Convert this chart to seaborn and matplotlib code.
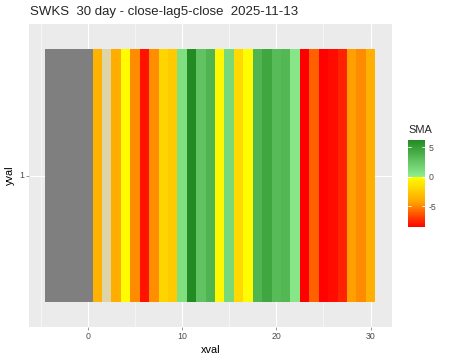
import numpy as np
import pandas as pd
import matplotlib
matplotlib.use("Agg")
import matplotlib.pyplot as plt
import seaborn as sns
from matplotlib.colors import LinearSegmentedColormap, ListedColormap

# ---- data ----
xval = list(range(-4, 31))
sma = [np.nan, np.nan, np.nan, np.nan, np.nan,
       -3.6, 0.0, -3.8, -0.2, -4.9, -8.0, -4.8, -2.0, -2.5, 0.9,
       6.2, 2.7, 3.6, -0.3, 1.3, -1.8, -0.2, 3.6, 4.5, 3.2,
       3.4, 0.5, -8.5, -6.0, -8.4, -8.2, -7.6, -4.4, -4.9, -3.7]
special_x = [2]          # tile drawn in a muted beige
x_ticks = [0, 10, 20, 30]
minor_ticks = [-5, 5, 15, 25]
cbar_ticks = [-5, 0, 5]
title = "SWKS  30 day - close-lag5-close  2025-11-13"

sns.set_theme(style="white")
plt.rcParams['font.family'] = ['Liberation Sans', 'DejaVu Sans']

fig = plt.figure(figsize=(450 / 72, 360 / 72), dpi=72)
ax = fig.add_axes([29 / 450, 1 - 327 / 360, (391.7 - 29) / 450, (327 - 24) / 360])
cax = fig.add_axes([408 / 450, 1 - 227 / 360, 17 / 450, 87 / 360])
ax.set_facecolor("#EBEBEB")

vals = np.array(sma, dtype=float)
xs = np.array(xval)
df = pd.DataFrame([vals], columns=xval, index=["1"])
is_na = np.isnan(vals)
is_special = np.isin(xs, special_x)

vmin, vmax = np.nanmin(vals), np.nanmax(vals)
z = (0 - vmin) / (vmax - vmin)
cmap = LinearSegmentedColormap.from_list(
    "sma",
    [(0.0, "#FF0000"), (z / 2, "#FFA500"), (z, "#FFFF00"),
     (min(z + 0.001, 1), "#90EE90"), (1.0, "#228B22")])

# NA tiles
sns.heatmap(pd.DataFrame([np.where(is_na, 0.0, np.nan)], columns=xval),
            cmap=ListedColormap(["#7F7F7F"]), cbar=False, ax=ax)
# special tile
sns.heatmap(pd.DataFrame([np.where(is_special, 0.0, np.nan)], columns=xval),
            cmap=ListedColormap(["#DDD5A8"]), cbar=False, ax=ax)
# main tiles
sns.heatmap(df, mask=np.array([is_na | is_special]), cmap=cmap,
            vmin=vmin, vmax=vmax, ax=ax, cbar_ax=cax)

# map data x to heatmap cell coordinates
off = -xval[0] + 0.5
span = (xval[-1] + 0.5) - (xval[0] - 0.5)
ax.set_xlim(xval[0] - 0.5 - 0.05 * span + off, xval[-1] + 0.5 + 0.05 * span + off)
ax.set_ylim(1.1, -0.1)
ax.set_xticks([t + off for t in x_ticks])
ax.set_xticklabels([str(t) for t in x_ticks], rotation=0)
ax.set_xticks([t + off for t in minor_ticks], minor=True)
ax.set_yticks([0.5])
ax.set_yticklabels(["1"], rotation=0)
ax.set_axisbelow(True)
ax.grid(True, which="major", color="white", lw=1.1)
ax.grid(True, which="minor", axis="x", color="white", lw=0.55)
for s in ax.spines.values():
    s.set_visible(False)
ax.tick_params(axis="both", which="major", length=2.75, width=0.5, color="#333333",
               labelsize=8.8, labelcolor="#4D4D4D", pad=2, bottom=True, left=True)
ax.tick_params(axis="x", which="minor", length=0)
for c in ax.collections:
    c.set_zorder(2)
ax.set_xlabel("xval", fontsize=11, color="black", labelpad=4)
ax.set_ylabel("yval", fontsize=11, color="black", labelpad=4)

# colorbar
cax.set_yticks(cbar_ticks)
cax.set_yticklabels([str(t) for t in cbar_ticks])
cax.tick_params(length=0, labelsize=8.8, labelcolor="#4D4D4D", pad=4)
for v in cbar_ticks:
    cax.axhline(v, 0, 0.2, color="white", lw=0.8)
    cax.axhline(v, 0.8, 1, color="white", lw=0.8)
for s in cax.spines.values():
    s.set_visible(False)
fig.text(408 / 450, 1 - 130 / 360, "SMA", fontsize=11, ha="left", va="center")

fig.text(30 / 450, 1 - 12 / 360, title, fontsize=13.2, ha="left", va="center")

fig.savefig("out.png", dpi=72)
